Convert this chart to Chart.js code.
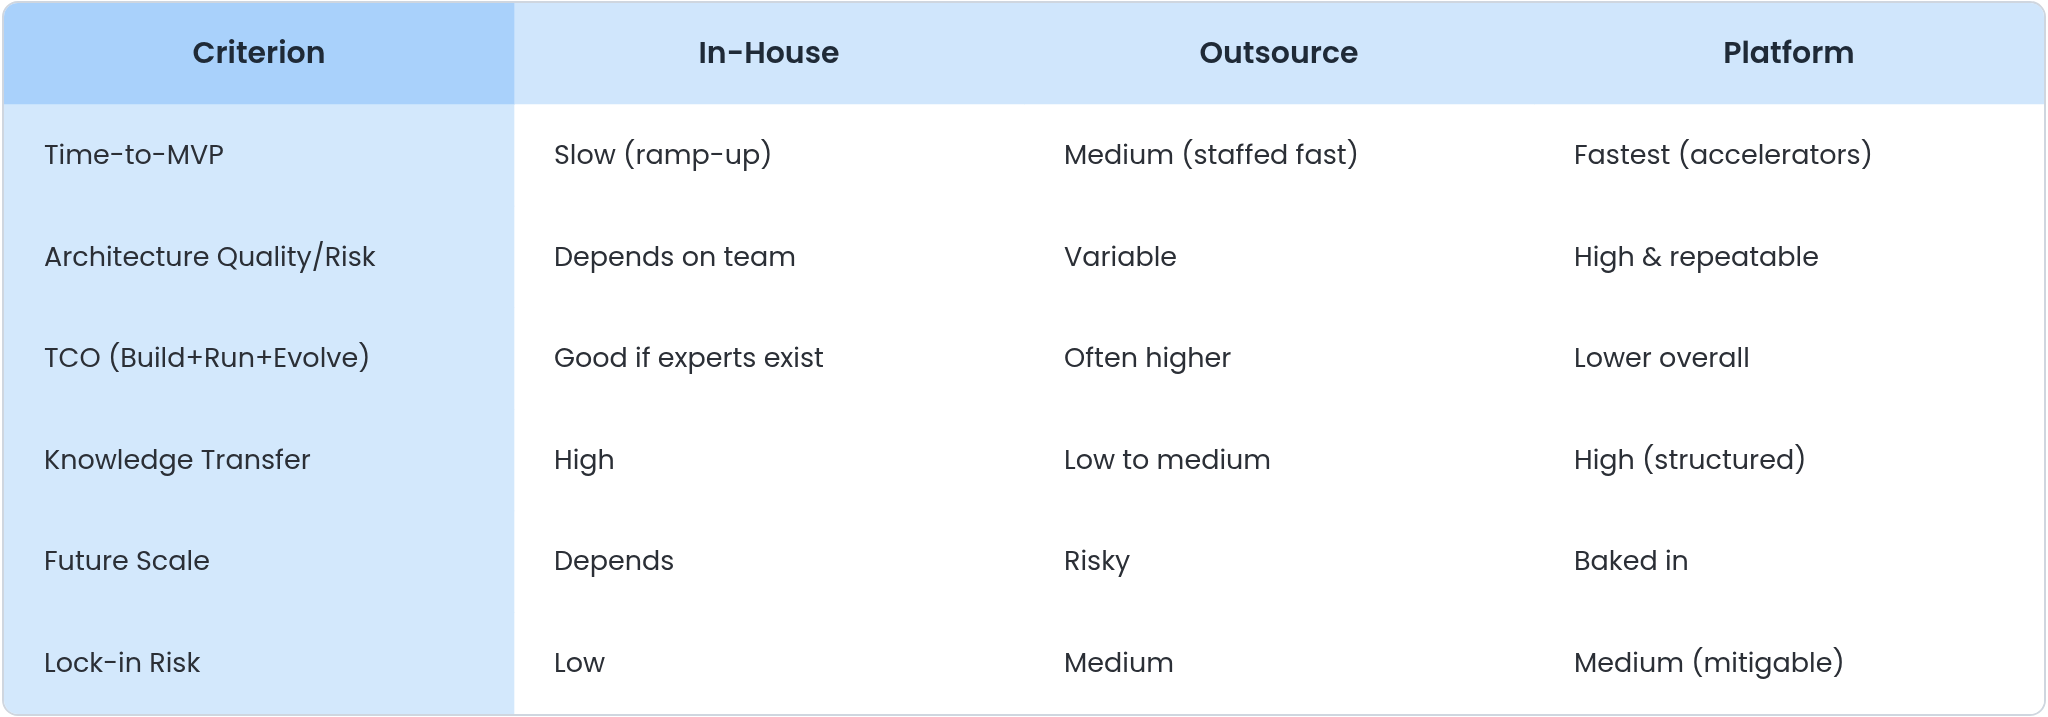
<!DOCTYPE html>
<html><head><meta charset="utf-8">
<script src="https://cdn.jsdelivr.net/npm/chart.js@4"></script>
<style>
html,body{margin:0;padding:0;background:#fff;}
#wrap{position:absolute;left:2px;top:1px;width:2040px;height:711px;border:2px solid #cfd6df;border-radius:16px;overflow:hidden;}
canvas{display:block;}
</style></head><body>
<div id="wrap"><canvas id="c" width="2040" height="711"></canvas></div>
<script>
const headers = ["Criterion","In-House","Outsource","Platform"];
const criteria = ["Time-to-MVP","Architecture Quality/Risk","TCO (Build+Run+Evolve)","Knowledge Transfer","Future Scale","Lock-in Risk"];
const inHouse = ["Slow (ramp-up)","Depends on team","Good if experts exist","High","Depends","Low"];
const outsource = ["Medium (staffed fast)","Variable","Often higher","Low to medium","Risky","Medium"];
const platform = ["Fastest (accelerators)","High & repeatable","Lower overall","High (structured)","Baked in","Medium (mitigable)"];

const rows = ["header", ...criteria];
const columns = [criteria, inHouse, outsource, platform];

function colColors(c){
  return rows.map((r,i)=> i===0 ? (c===0?'#a9d1fb':'#d0e6fc') : (c===0?'#d3e8fc':'#ffffff'));
}
const datasets = columns.map((col,c)=>({
  data: rows.map(()=>[c, c+1]),
  backgroundColor: colColors(c),
  borderWidth:0, borderSkipped:false,
  grouped:false, barPercentage:1, categoryPercentage:1
}));

const textPlugin = {
  id:'cellText',
  afterDraw(chart){
    const ctx = chart.ctx, xs = chart.scales.x, ys = chart.scales.y;
    ctx.save();
    ctx.textBaseline='middle';
    headers.forEach((h,c)=>{
      ctx.font='600 30px Poppins, Inter, sans-serif';
      ctx.fillStyle='#1f2a37';
      ctx.textAlign='center';
      ctx.fillText(h, (xs.getPixelForValue(c)+xs.getPixelForValue(c+1))/2, ys.getPixelForValue(0)+2);
    });
    columns.forEach((col,c)=>{
      col.forEach((t,i)=>{
        ctx.font='400 27px Poppins, Inter, sans-serif';
        ctx.fillStyle='#2b2f36';
        ctx.textAlign='left';
        ctx.fillText(t, xs.getPixelForValue(c)+40, ys.getPixelForValue(i+1)+2);
      });
    });
    ctx.restore();
  }
};

new Chart(document.getElementById('c'),{
  type:'bar',
  data:{labels:rows, datasets},
  options:{
    indexAxis:'y', responsive:false, animation:false, devicePixelRatio:1,
    layout:{padding:0},
    plugins:{legend:{display:false},tooltip:{enabled:false}},
    scales:{
      x:{type:'linear',min:0,max:4,display:false},
      y:{type:'category',z:1,offset:true,
         grid:{offset:true,color:'#dde1e6',lineWidth:2,drawTicks:false},
         border:{display:false},ticks:{display:false}}
    }
  },
  plugins:[textPlugin]
});
</script></body></html>
